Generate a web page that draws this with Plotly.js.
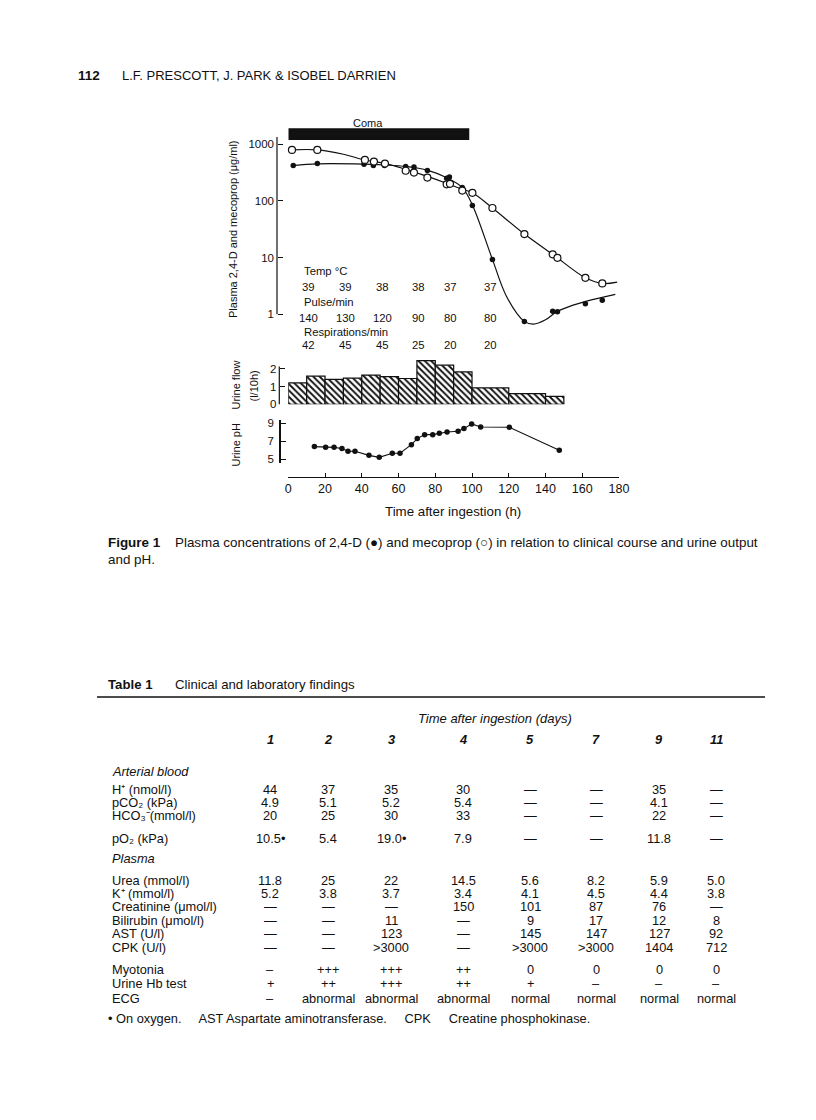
<!DOCTYPE html>
<html><head><meta charset="utf-8">
<script src="https://cdn.plot.ly/plotly-3.0.1.min.js"></script>
<style>html,body{margin:0;padding:0;background:#fff;} #chart{width:816px;height:1120px;}</style>
</head><body><div id="chart"></div>
<script>
// ---------------- FIGURE DATA ----------------
const d24Hours = [2.7, 15.8, 41.2, 46.3, 52.3, 63.9, 68.4, 75.7, 86.2, 87.7, 94.7, 100.2, 111.1, 128.5, 143.9, 146.5, 161.7, 170.9];
const d24Conc  = [420, 457, 445, 420, 420, 405, 395, 343, 251, 265, 172, 83, 9.3, 0.75, 1.13, 1.11, 1.54, 1.77];
const mecHours = [2.0, 15.8, 41.7, 46.6, 52.6, 63.9, 68.4, 75.7, 86.2, 88.0, 94.7, 100.2, 111.1, 128.5, 143.9, 146.5, 161.7, 170.9];
const mecConc  = [794, 794, 527, 493, 456, 340, 316, 258, 196, 200, 152, 139, 75, 26, 11.4, 9.9, 4.4, 3.5];
// hand-drawn fitted curves
const d24CurveHours = [2.7, 15.8, 41, 52, 64, 76, 86, 94.7, 100.2, 111.1, 119, 128.5, 133.5, 140, 146, 155, 165, 178];
const d24CurveConc  = [420, 450, 445, 430, 405, 345, 258, 172, 85, 9.3, 2.0, 0.75, 0.67, 0.8, 1.1, 1.45, 1.8, 2.25];
const mecCurveHours = [2, 15.8, 30, 41.7, 52.6, 64, 75.7, 86, 94.7, 100.2, 111.1, 128.5, 143.9, 146.5, 161.7, 170.9, 179];
const mecCurveConc  = [794, 794, 665, 527, 460, 360, 270, 205, 160, 139, 75, 26, 11.4, 9.9, 4.4, 3.5, 3.7];

const comaPeriod = [0, 98.5];

const vitalHours = [11, 31, 51, 71, 88.5, 110];
const tempC = ['39', '39', '38', '38', '37', '37'];
const pulse = ['140', '130', '120', '90', '80', '80'];
const resp  = ['42', '45', '45', '25', '20', '20'];

const flowStart = [0, 10, 20, 30, 40, 50, 60, 70, 80, 90, 100, 120, 140];
const flowEnd   = [10, 20, 30, 40, 50, 60, 70, 80, 90, 100, 120, 140, 150];
const flowRate  = [1.2, 1.58, 1.4, 1.47, 1.64, 1.55, 1.45, 2.45, 2.2, 1.82, 0.92, 0.6, 0.44];

const phHours  = [14.2, 20.3, 24.9, 29.2, 32.5, 36.3, 43.9, 49.5, 56.6, 60.8, 67, 70.2, 74.2, 78.6, 82.2, 86.4, 92.4, 95.6, 99.8, 104.7, 120.3, 147.5];
const phValues = [6.41, 6.33, 6.33, 6.19, 5.89, 5.89, 5.44, 5.22, 5.67, 5.67, 6.63, 7.30, 7.74, 7.74, 7.89, 8.04, 8.11, 8.41, 8.93, 8.59, 8.56, 6.0];

const xTicks = [0, 20, 40, 60, 80, 100, 120, 140, 160, 180];
const concTicks = [1, 10, 100, 1000];
const flowTicks = [0, 1, 2];
const phTicks = [5, 7, 9];

// ---------------- TABLE DATA ----------------
const D = '\u2014', S = '\u2013';
const days = ['1', '2', '3', '4', '5', '7', '9', '11'];
const hPlus      = ['44', '37', '35', '30', D, D, '35', D];
const pCO2       = ['4.9', '5.1', '5.2', '5.4', D, D, '4.1', D];
const hco3       = ['20', '25', '30', '33', D, D, '22', D];
const pO2        = ['10.5*', '5.4', '19.0*', '7.9', D, D, '11.8', D];
const urea       = ['11.8', '25', '22', '14.5', '5.6', '8.2', '5.9', '5.0'];
const kPlus      = ['5.2', '3.8', '3.7', '3.4', '4.1', '4.5', '4.4', '3.8'];
const creatinine = [D, D, D, '150', '101', '87', '76', D];
const bilirubin  = [D, D, '11', D, '9', '17', '12', '8'];
const ast        = [D, D, '123', D, '145', '147', '127', '92'];
const cpk        = [D, D, '>3000', D, '>3000', '>3000', '1404', '712'];
const myotonia   = [S, '+++', '+++', '++', '0', '0', '0', '0'];
const urineHb    = ['+', '++', '+++', '++', '+', S, S, S];
const ecg        = [S, 'abnormal', 'abnormal', 'abnormal', 'normal', 'normal', 'normal', 'normal'];

const tableRows = [
  {label: 'H\u207a (nmol/l)', vals: hPlus},
  {label: 'pCO\u2082 (kPa)', vals: pCO2},
  {label: 'HCO\u2083\u207b(mmol/l)', vals: hco3},
  {label: 'pO\u2082 (kPa)', vals: pO2},
  {label: 'Urea (mmol/l)', vals: urea},
  {label: 'K\u207a (mmol/l)', vals: kPlus},
  {label: 'Creatinine (\u03bcmol/l)', vals: creatinine},
  {label: 'Bilirubin (\u03bcmol/l)', vals: bilirubin},
  {label: 'AST (U/l)', vals: ast},
  {label: 'CPK (U/l)', vals: cpk},
  {label: 'Myotonia', vals: myotonia},
  {label: 'Urine Hb test', vals: urineHb},
  {label: 'ECG', vals: ecg}
];

// ---------------- LAYOUT HELPERS (pixels -> paper) ----------------
const W = 816, H = 1120;
const px = v => v / W;
const py = v => 1 - v / H;
const FONT = 'Liberation Sans, Arial, Helvetica, sans-serif';
const INK = '#111111';

// pixel geometry of the figure
const X0 = 288.3, X180 = 619;
const logPx1 = 314.3, logPxPerDec = 56.7;
const mainTop = 130, mainBot = 330;
const flow0 = 404.3, flowPerUnit = 17.8, flowTop = 358;
const ph9 = 423.3, phPerUnit = 9, phTop = 420, phBot = 463;

const traces = [];
traces.push({x: mecCurveHours, y: mecCurveConc, mode: 'lines', line: {color: INK, width: 1.2, shape: 'spline', smoothing: 1}, xaxis: 'x', yaxis: 'y', hoverinfo: 'skip'});
traces.push({x: d24CurveHours, y: d24CurveConc, mode: 'lines', line: {color: INK, width: 1.2, shape: 'spline', smoothing: 1}, xaxis: 'x', yaxis: 'y', hoverinfo: 'skip'});
traces.push({x: d24Hours, y: d24Conc, mode: 'markers', marker: {symbol: 'circle', size: 5.5, color: INK}, xaxis: 'x', yaxis: 'y', cliponaxis: false});
traces.push({x: mecHours, y: mecConc, mode: 'markers', marker: {symbol: 'circle', size: 7, color: '#fff', line: {color: INK, width: 1.2}}, xaxis: 'x', yaxis: 'y', cliponaxis: false});

traces.push({
  type: 'bar',
  x: flowStart.map((s, i) => (s + flowEnd[i]) / 2),
  width: flowStart.map((s, i) => flowEnd[i] - s),
  y: flowRate,
  marker: {color: '#fff', line: {color: INK, width: 1.2}, pattern: {shape: '\\', fgcolor: INK, bgcolor: '#fff', size: 4.5, solidity: 0.42}},
  xaxis: 'x', yaxis: 'y2', hoverinfo: 'skip'
});

traces.push({x: phHours, y: phValues, mode: 'lines+markers', line: {color: INK, width: 1.1}, marker: {size: 5.5, color: INK}, xaxis: 'x', yaxis: 'y3', cliponaxis: false});

const tickFont = {family: FONT, size: 11.5, color: INK};

const layout = {
  width: W, height: H,
  margin: {l: 0, r: 0, t: 0, b: 0},
  paper_bgcolor: '#fff', plot_bgcolor: 'rgba(0,0,0,0)',
  showlegend: false,
  barmode: 'overlay',
  font: {family: FONT, color: INK},
  xaxis: {
    domain: [px(X0), px(X180)], range: [0, 180],
    anchor: 'free', position: py(476.7),
    tickvals: xTicks, ticks: 'inside', ticklen: 4, tickwidth: 1, tickcolor: INK,
    showline: true, linecolor: INK, linewidth: 1.2,
    showgrid: false, zeroline: false,
    tickfont: {family: FONT, size: 12.5, color: INK}
  },
  yaxis: {
    type: 'log',
    domain: [py(mainBot), py(mainTop)],
    range: [(logPx1 - mainBot) / logPxPerDec, (logPx1 - mainTop) / logPxPerDec],
    anchor: 'free', position: px(277),
    tickvals: concTicks, ticktext: concTicks.map(String),
    ticks: 'inside', ticklen: 5, tickwidth: 1, tickcolor: INK,
    showline: false, showgrid: false, zeroline: false,
    tickfont: tickFont, ticklabelstandoff: 3
  },
  yaxis2: {
    domain: [py(flow0), py(flowTop)],
    range: [0, (flow0 - flowTop) / flowPerUnit],
    anchor: 'free', position: px(279.3),
    tickvals: flowTicks, ticks: 'inside', ticklen: 5, tickwidth: 1, tickcolor: INK,
    showline: false, showgrid: false, zeroline: false,
    tickfont: tickFont, ticklabelstandoff: 3
  },
  yaxis3: {
    domain: [py(phBot), py(phTop)],
    range: [9 - (phBot - ph9) / phPerUnit, 9 + (ph9 - phTop) / phPerUnit],
    anchor: 'free', position: px(279.3),
    tickvals: phTicks, ticks: 'inside', ticklen: 5, tickwidth: 1, tickcolor: INK,
    showline: true, linecolor: INK, linewidth: 1.2,
    showgrid: false, zeroline: false,
    tickfont: tickFont, ticklabelstandoff: 3
  },
  shapes: [],
  annotations: []
};

// coma bar
layout.shapes.push({type: 'rect', xref: 'x', yref: 'paper', x0: comaPeriod[0], x1: comaPeriod[1], y0: py(140), y1: py(128.3), fillcolor: INK, line: {width: 0}});
// main y-axis line (1 to top)
layout.shapes.push({type: 'line', xref: 'paper', yref: 'paper', x0: px(277), x1: px(277), y0: py(logPx1), y1: py(137), line: {color: INK, width: 1.2}});
// urine flow axis line
layout.shapes.push({type: 'line', xref: 'paper', yref: 'paper', x0: px(279.3), x1: px(279.3), y0: py(flow0), y1: py(366.5), line: {color: INK, width: 1.2}});
// table rule
layout.shapes.push({type: 'line', xref: 'paper', yref: 'paper', x0: px(97), x1: px(765), y0: py(697), y1: py(697), line: {color: INK, width: 1.6}});

const A = layout.annotations;
function txt(x, y, text, opts) {
  opts = opts || {};
  A.push(Object.assign({
    xref: 'paper', yref: 'paper', x: px(x), y: py(y), text: text, showarrow: false,
    xanchor: 'left', yanchor: 'middle',
    font: {family: FONT, size: opts.size || 12, color: INK}
  }, opts.extra || {}));
}

// page header
txt(76, 76, '<b>112</b>', {size: 13.5});
txt(120, 76, 'L.F. PRESCOTT, J. PARK &amp; ISOBEL DARRIEN', {size: 13});

// figure labels
txt(367.7, 122.5, 'Coma', {size: 11, extra: {xanchor: 'center'}});
txt(233, 229, 'Plasma 2,4-D and mecoprop (\u03bcg/ml)', {size: 11, extra: {xanchor: 'center', textangle: -90}});
txt(235.5, 385, 'Urine flow', {size: 11, extra: {xanchor: 'center', textangle: -90}});
txt(253, 386.5, '(l/10h)', {size: 11, extra: {xanchor: 'center', textangle: -90}});
txt(235.5, 445, 'Urine pH', {size: 11, extra: {xanchor: 'center', textangle: -90}});
txt(452.7, 511.5, 'Time after ingestion (h)', {size: 13.3, extra: {xanchor: 'center'}});

txt(301.5, 270.5, 'Temp \u00b0C', {size: 11.3});
txt(301.5, 302, 'Pulse/min', {size: 11.3});
txt(301.5, 332.3, 'Respirations/min', {size: 11.3});
function vitalRow(vals, y) {
  vals.forEach((v, i) => A.push({xref: 'x', yref: 'paper', x: vitalHours[i], y: py(y), text: v, showarrow: false, xanchor: 'center', yanchor: 'middle', font: {family: FONT, size: 11.3, color: INK}}));
}
vitalRow(tempC, 287.3);
vitalRow(pulse, 318.3);
vitalRow(resp, 345);

// caption
const CAP = 13.4;
txt(106, 542, '<b>Figure 1</b>', {size: CAP});
txt(173, 542, 'Plasma concentrations of 2,4-D (\u25cf) and mecoprop (\u25cb) in relation to clinical course and urine output', {size: CAP});
txt(106, 559, 'and pH.', {size: CAP});

// table
const TF = 12.8;
txt(106, 684, '<b>Table 1</b>', {size: 13.2});
txt(173, 684, 'Clinical and laboratory findings', {size: 13.2});
txt(495, 718.5, '<i>Time after ingestion (days)</i>', {size: 13, extra: {xanchor: 'center'}});
const colX = [270, 328, 391, 463, 530, 596, 659, 716];
days.forEach((d, i) => txt(colX[i], 739.5, '<b><i>' + d + '</i></b>', {size: TF, extra: {xanchor: 'center'}}));
txt(110, 771, '<i>Arterial blood</i>', {size: TF});
txt(110, 858, '<i>Plasma</i>', {size: TF});
const rowY = [789.5, 802, 815, 838, 880.5, 893.7, 906.8, 920, 933.5, 947.6, 969, 983.5, 998];
tableRows.forEach((r, ri) => {
  txt(110, rowY[ri], r.label, {size: TF});
  r.vals.forEach((v, ci) => {
    const t = v.replace('>', '&gt;').replace('*', '\u2022');
    txt(colX[ci], rowY[ri], t, {size: TF, extra: {xanchor: 'center'}});
  });
});
txt(106, 1018, '\u2022 On oxygen.     AST Aspartate aminotransferase.     CPK     Creatine phosphokinase.', {size: TF});

Plotly.newPlot('chart', traces, layout, {staticPlot: true, displayModeBar: false});
</script>
</body></html>
